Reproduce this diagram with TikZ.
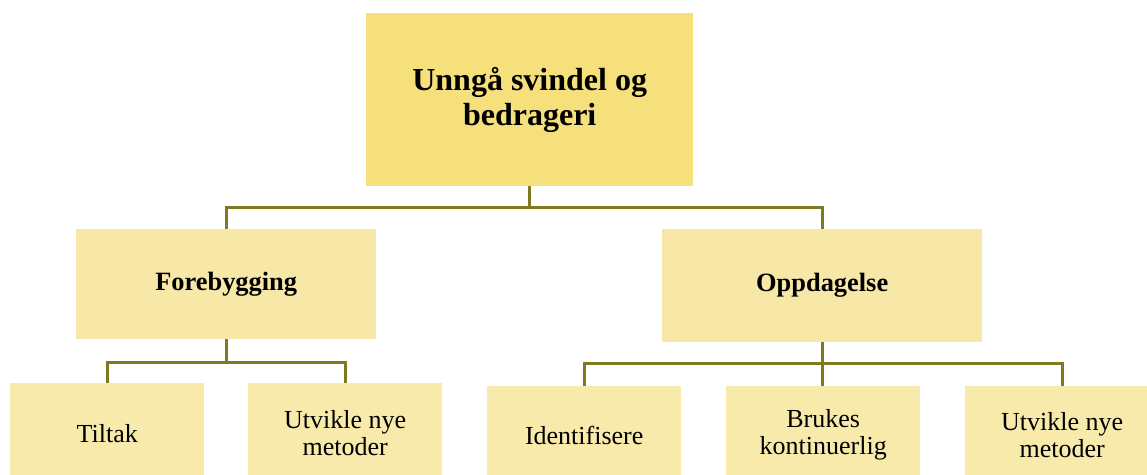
\documentclass[tikz,border=0pt]{standalone}
\usepackage{fontspec}
\setmainfont{Liberation Serif}
\definecolor{topfill}{HTML}{F5E07C}
\definecolor{midfill}{HTML}{F8E8A7}
\definecolor{lowfill}{HTML}{F8EAAB}
\definecolor{conncol}{HTML}{7F7A20}
\begin{document}
\begin{tikzpicture}[x=1pt,y=-1pt,
  boxbase/.style={rectangle, inner sep=0pt, align=center, anchor=north west},
  topbox/.style={boxbase, fill=topfill, font=\fontsize{32}{35}\selectfont\bfseries},
  midbox/.style={boxbase, fill=midfill, font=\fontsize{26.4}{28}\selectfont\bfseries},
  lowbox/.style={boxbase, fill=lowfill, font=\fontsize{26}{27}\selectfont},
  conn/.style={draw=conncol, line width=2.7pt}]
\useasboundingbox (0,0) rectangle (1147,474);
\clip (0,0) rectangle (1147,474);
\node[topbox, minimum width=327pt, minimum height=173pt] (top) at (366,13) {Unngå svindel og\\bedrageri};
\node[midbox, minimum width=300pt, minimum height=110pt] (fore) at (76,229) {Forebygging};
\node[midbox, minimum width=320pt, minimum height=113pt] (opp) at (662,229) {Oppdagelse};
\node[lowbox, minimum width=194pt, minimum height=100pt] (tiltak) at (10,383) {Tiltak};
\node[lowbox, minimum width=194pt, minimum height=100pt] (utv1) at (248,383) {Utvikle nye\\metoder};
\node[lowbox, minimum width=194pt, minimum height=98pt] (ident) at (487,386) {Identifisere};
\node[lowbox, minimum width=194pt, minimum height=98pt] (bruk) at (726,386) {Brukes\\kontinuerlig};
\node[lowbox, minimum width=194pt, minimum height=98pt] (utv2) at (965,386) {Utvikle nye\\metoder};
\draw[conn] (top.south) -- ++(0,21) -| (fore.north);
\draw[conn] (top.south) -- ++(0,21) -| (opp.north);
\draw[conn] (fore.south) -- ++(0,23) -| (tiltak.north);
\draw[conn] (fore.south) -- ++(0,23) -| (utv1.north);
\draw[conn] (opp.south) -- ++(0,21) -| (ident.north);
\draw[conn] (opp.south) -- (opp.south |- bruk.north);
\draw[conn] (opp.south) -- ++(0,21) -| (utv2.north);
\end{tikzpicture}
\end{document}
